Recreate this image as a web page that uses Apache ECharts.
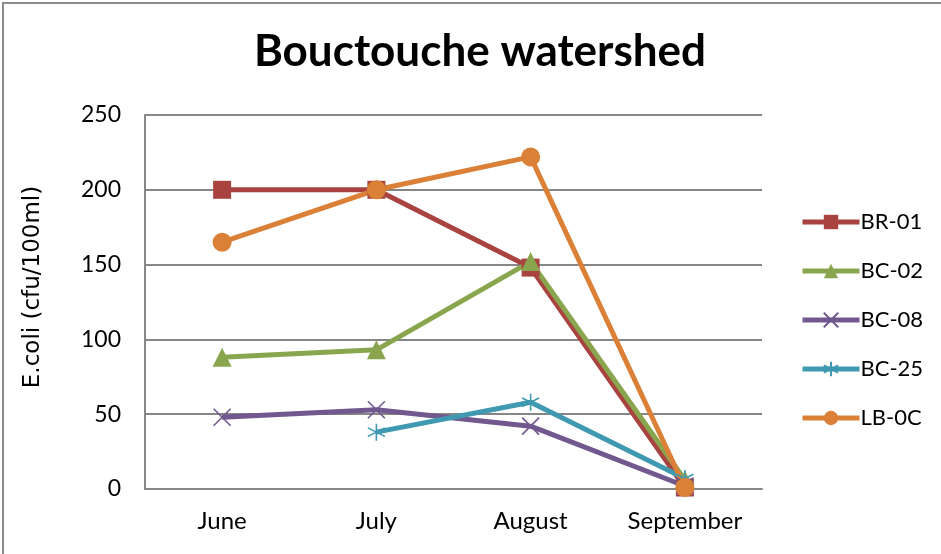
<!DOCTYPE html>
<html>
<head>
<meta charset="utf-8">
<script src="https://cdn.jsdelivr.net/npm/echarts@6/dist/echarts.min.js"></script>
<style>
html, body { margin: 0; padding: 0; background: #fff; }
#chart { width: 941px; height: 554px; }
</style>
</head>
<body>
<div id="chart"></div>
<script>
// data
var months = ['June', 'July', 'August', 'September'];
var br01 = [200, 200, 148, 1];
var bc02 = [88, 93, 152, 6];
var bc08 = [48, 53, 42, 2];
var bc25 = [null, 38, 58, 7];
var lb0c = [165, 200, 222, 1];
var yTicks = { min: 0, max: 250, interval: 50 };

var colors = {
    red: '#A84340',
    green: '#89A64E',
    purple: '#71588F',
    teal: '#3F99B0',
    orange: '#DA8137'
};
var labelFont = 'Lato';

var chart = echarts.init(document.getElementById('chart'));

function lineSeries(name, data, color, symbol, size, hollow) {
    var s = {
        name: name,
        type: 'line',
        data: data,
        symbol: symbol,
        symbolSize: size,
        showAllSymbol: true,
        connectNulls: false,
        lineStyle: { color: color, width: 5 },
        itemStyle: { color: color },
        emphasis: { disabled: true }
    };
    if (hollow) {
        // stroked-only markers (cross / asterisk)
        s.itemStyle = { color: 'none', borderColor: color, borderWidth: 1.6 };
    }
    return s;
}

var option = {
    backgroundColor: '#fff',
    animation: false,
    title: {
        text: 'Bouctouche watershed',
        left: 475,
        textAlign: 'center',
        top: 25,
        textStyle: { fontFamily: labelFont, fontWeight: 'bold', fontSize: 44, color: '#000' }
    },
    legend: {
        orient: 'vertical',
        left: 795,
        top: 206,
        itemWidth: 57,
        itemHeight: 18,
        itemGap: 27,
        lineStyle: { width: 5 },
        textStyle: { fontFamily: labelFont, fontSize: 22, color: '#000', padding: [0, 0, 0, -4] },
        data: ['BR-01', 'BC-02', 'BC-08', 'BC-25', 'LB-0C']
    },
    grid: { left: 145, right: 179, top: 115, bottom: 65 },
    xAxis: {
        type: 'category',
        data: months,
        boundaryGap: true,
        axisLine: { lineStyle: { color: '#868686', width: 2 } },
        axisTick: { show: false },
        axisLabel: { fontFamily: labelFont, fontSize: 24, color: '#000', margin: 20 }
    },
    yAxis: {
        type: 'value',
        min: yTicks.min,
        max: yTicks.max,
        interval: yTicks.interval,
        name: 'E.coli (cfu/100ml)',
        nameLocation: 'middle',
        nameGap: 100,
        nameTextStyle: { fontFamily: 'DejaVu Sans', fontSize: 23, color: '#000', padding: [0, 0, 0, 30] },
        axisLine: { show: true, lineStyle: { color: '#868686', width: 2 } },
        axisTick: { show: false },
        splitLine: { lineStyle: { color: '#868686', width: 2 } },
        axisLabel: { fontFamily: labelFont, fontSize: 23, color: '#000', margin: 24 }
    },
    graphic: [{
        type: 'rect',
        shape: { x: 3, y: 3, width: 1000, height: 600 },
        style: { fill: 'none', stroke: '#8c8c8c', lineWidth: 2 },
        silent: true
    }],
    series: [
        lineSeries('BR-01', br01, colors.red, 'rect', 18),
        lineSeries('BC-02', bc02, colors.green, 'triangle', 19),
        lineSeries('BC-08', bc08, colors.purple, 'path://M0,0L10,10M10,0L0,10', 17, true),
        lineSeries('BC-25', bc25, colors.teal, 'path://M5,0L5,10M0,2.5L10,7.5M0,7.5L10,2.5', 17, true),
        lineSeries('LB-0C', lb0c, colors.orange, 'circle', 19)
    ]
};

chart.setOption(option);
window.addEventListener('resize', function () {
    chart.resize();
});
</script>
</body>
</html>
